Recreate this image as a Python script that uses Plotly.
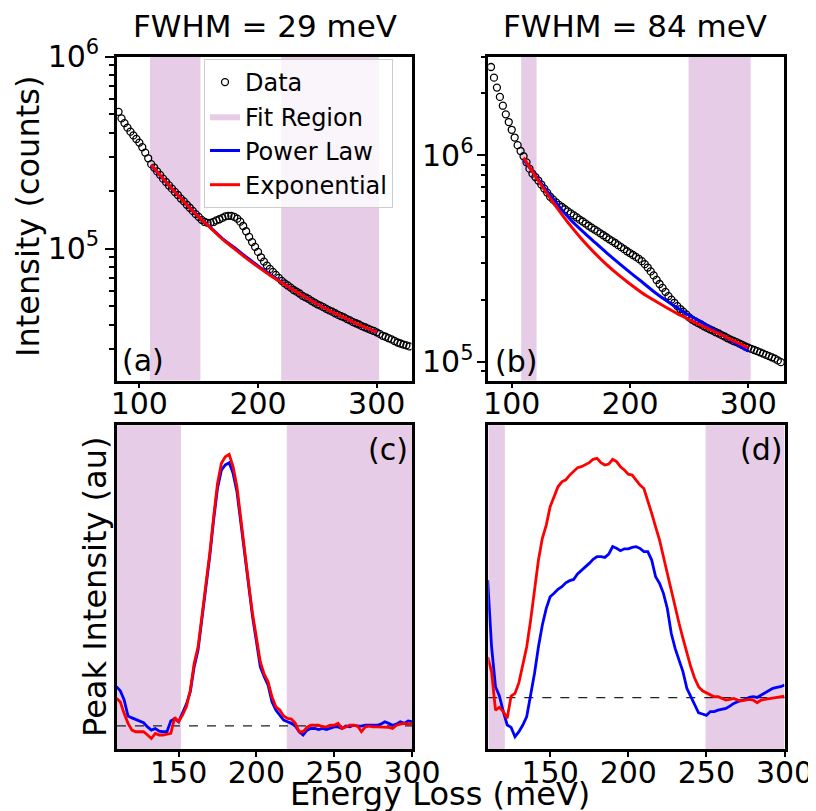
import numpy as np
import plotly.graph_objects as go

# ------------------------------------------------------------------ data
# raw spectra (panels a, b), energy loss in meV, counts in thousands
energy_data = np.arange(82.5, 327.6, 2.5)
counts_a_k = [515, 476, 450, 426, 406, 388, 372, 356, 337, 316,
              295, 275, 264, 252, 242, 231, 222, 213, 205, 197,
              190, 182, 176, 169, 163, 157, 151, 146, 141, 137.5,
              136, 136, 137.5, 140, 142, 144.5, 147, 148, 148, 146,
              143, 138, 131, 123, 115, 108, 102, 96, 90, 85.5,
              81.5, 78.3, 75.5, 72.8, 70.3, 67.8, 65.8, 64.2, 62.6, 60.8,
              59.6, 58.3, 56.7, 55.7, 54.7, 53.4, 52.3, 51.2, 50.4, 49.5,
              48.5, 47.6, 46.9, 46.0, 45.1, 44.4, 43.8, 42.9, 42.2, 41.4,
              40.8, 40.2, 39.4, 38.9, 38.3, 37.7, 37.2, 36.6, 35.9, 35.1,
              34.7, 34.1, 33.6, 33.0, 32.4, 32.0, 31.6, 31.3, 30.9]
counts_b_k = [2680, 2380, 2130, 1920, 1740, 1580, 1450, 1330, 1220, 1120,
              1050, 990, 925, 862, 815, 785, 755, 722, 690, 660,
              630, 610, 592, 575, 562, 548, 535, 523, 512, 500,
              488, 478, 467, 456, 446, 437, 428, 419, 410, 401,
              392, 384, 376, 367, 359, 351, 343, 336, 329, 322,
              315, 307, 297, 286, 274, 262, 249, 238, 228, 218,
              208, 200, 193, 186, 180, 175, 169.5, 164, 160, 157,
              154, 151.5, 148.5, 146, 143.5, 141.5, 139, 137, 134.5, 132.5,
              130, 128, 126, 124.5, 122.5, 120.5, 118.5, 117, 115.5, 114,
              112.5, 111, 109.5, 108, 106.5, 105, 103.5, 101.5, 99.5]

# background fits (panels a, b)
energy_fit = np.arange(110, 300.1, 10)
powerlaw_a_k = [270, 230.5, 197, 169, 146.2, 128.5, 112.6, 101.2, 90.3, 81.2,
                73.2, 66.7, 60.8, 55.8, 51.4, 47.6, 44.3, 41.4, 38.8, 36.5]
exponential_a_k = [272, 231, 197, 169, 146, 128, 112, 99.8, 89.1, 80.2,
                   72.6, 66.4, 60.7, 55.7, 51.4, 47.6, 44.4, 41.5, 38.9, 36.6]
powerlaw_b_k = [955, 800, 670, 566, 486, 428, 380, 338, 302, 271,
                244, 219, 199, 182, 168, 156, 144, 132.5, 122, 112.5]
exponential_b_k = [975, 793, 650, 540, 454, 388, 337, 296, 264, 238,
                   216, 199, 184, 171, 160, 150, 141, 132.5, 124.5, 117]

# background-subtracted peaks (panels c, d)
energy_peak = np.arange(110, 300.1, 2.5)
peak_power_c = [0.144, 0.129, 0.095, 0.036, 0.029, 0.023, 0.014, 0.011, -0.004, -0.016,
                -0.010, -0.020, -0.022, -0.022, 0.018, 0.026, 0.015, 0.045, 0.080, 0.125,
                0.217, 0.279, 0.389, 0.512, 0.623, 0.758, 0.875, 0.942, 0.961, 0.969,
                0.930, 0.862, 0.746, 0.623, 0.512, 0.402, 0.310, 0.217, 0.181, 0.150,
                0.088, 0.058, 0.039, 0.021, 0.015, 0.009, -0.001, -0.022, -0.034, -0.016,
                -0.010, -0.010, -0.014, -0.010, -0.014, -0.010, -0.004, -0.004, -0.010, -0.001,
                -0.004, 0.002, -0.001, -0.001, 0.002, 0.002, 0.002, 0.002, 0.006, 0.015,
                0.009, 0.002, 0.006, 0.015, 0.009, 0.018, 0.015]
peak_exp_c = [0.101, 0.088, 0.045, 0.009, -0.016, -0.022, -0.022, -0.022, -0.034, -0.047,
              -0.028, -0.034, -0.034, -0.032, -0.028, 0.031, 0.015, 0.039, 0.070, 0.131,
              0.230, 0.291, 0.402, 0.525, 0.635, 0.770, 0.893, 0.967, 0.991, 1.000,
              0.955, 0.881, 0.758, 0.635, 0.525, 0.414, 0.322, 0.236, 0.190, 0.162,
              0.107, 0.070, 0.058, 0.036, 0.027, 0.025, 0.009, -0.022, -0.022, -0.006,
              0.002, 0.002, 0.002, -0.004, -0.004, 0.002, 0.002, 0.009, -0.010, -0.004,
              0.002, 0.002, -0.001, -0.022, -0.004, -0.001, -0.004, -0.004, -0.004, -0.004,
              -0.006, -0.010, 0.002, 0.006, 0.009, 0.006, 0.009]
peak_power_d = [0.491, 0.213, 0.046, 0.007, -0.058, -0.114, -0.124, -0.163, -0.142, -0.114,
                -0.079, 0.011, 0.102, 0.213, 0.304, 0.373, 0.422, 0.436, 0.453, 0.464,
                0.480, 0.489, 0.494, 0.517, 0.531, 0.547, 0.561, 0.578, 0.589, 0.589,
                0.586, 0.600, 0.631, 0.624, 0.614, 0.622, 0.622, 0.628, 0.631, 0.624,
                0.610, 0.610, 0.575, 0.505, 0.478, 0.436, 0.373, 0.269, 0.206, 0.157,
                0.109, 0.039, 0.004, -0.024, -0.063, -0.068, -0.074, -0.058, -0.058, -0.052,
                -0.049, -0.045, -0.035, -0.024, -0.017, -0.013, -0.007, 0.001, 0.004, 0.001,
                0.011, 0.021, 0.029, 0.039, 0.043, 0.046, 0.053]
peak_exp_d = [0.170, 0.109, -0.052, -0.040, -0.058, -0.086, 0.007, 0.018, 0.063, 0.136,
              0.213, 0.324, 0.443, 0.575, 0.666, 0.721, 0.798, 0.837, 0.881, 0.902,
              0.910, 0.930, 0.944, 0.961, 0.965, 0.975, 0.982, 0.996, 1.000, 0.982,
              0.972, 0.976, 0.996, 0.986, 0.965, 0.951, 0.934, 0.930, 0.909, 0.888,
              0.874, 0.826, 0.770, 0.714, 0.659, 0.589, 0.519, 0.450, 0.373, 0.311,
              0.248, 0.185, 0.129, 0.081, 0.046, 0.029, 0.021, 0.015, 0.004, 0.004,
              -0.003, -0.010, -0.007, -0.003, -0.010, -0.013, -0.010, -0.007, -0.010, -0.021,
              -0.010, -0.007, -0.007, -0.003, 0.001, 0.004, 0.007]

fit_regions_29 = [(109, 151.5), (219.5, 302)]
fit_regions_84 = [(108, 121), (249.5, 302)]

titles = ["FWHM = 29 meV", "FWHM = 84 meV"]
panel_labels = ["(a)", "(b)", "(c)", "(d)"]
x_ticks_top = [100, 200, 300]
x_ticks_bottom = [150, 200, 250, 300]

assert len(counts_a_k) == len(energy_data) == len(counts_b_k)
for arr in (peak_power_c, peak_exp_c, peak_power_d, peak_exp_d):
    assert len(arr) == len(energy_peak)

# ------------------------------------------------------------------ style
# The page body has an 8 px margin, so the figure is 8 px smaller on each
# axis and all placements below are given in window pixels.
OFF = 8
W, H = 816 - OFF, 811 - OFF
FONT = "DejaVu Sans"
BAND = "#E6CCE6"
BLUE = "#0000FF"
RED = "#FF0000"


def fx(p):
    return (p - OFF) / W


def fy(p):
    return 1 - (p - OFF) / H


fig = go.Figure()

k = 1e3
# panel (a)
fig.add_trace(go.Scatter(x=energy_data, y=np.array(counts_a_k) * k, mode="markers",
                         name="Data", xaxis="x", yaxis="y",
                         marker=dict(symbol="circle-open", size=7, color="black",
                                     line=dict(width=1.3, color="black"))))
fig.add_trace(go.Scatter(x=[None], y=[None], mode="lines", name="Fit Region",
                         fill="toself", fillcolor=BAND, line=dict(width=0, color=BAND),
                         xaxis="x", yaxis="y"))
fig.add_trace(go.Scatter(x=energy_fit, y=np.array(powerlaw_a_k) * k, mode="lines",
                         name="Power Law", line=dict(color=BLUE, width=3, shape="spline"),
                         xaxis="x", yaxis="y"))
fig.add_trace(go.Scatter(x=energy_fit, y=np.array(exponential_a_k) * k, mode="lines",
                         name="Exponential", line=dict(color=RED, width=3, shape="spline"),
                         xaxis="x", yaxis="y"))
# panel (b)
fig.add_trace(go.Scatter(x=energy_data, y=np.array(counts_b_k) * k, mode="markers",
                         showlegend=False, xaxis="x2", yaxis="y2",
                         marker=dict(symbol="circle-open", size=7, color="black",
                                     line=dict(width=1.3, color="black"))))
fig.add_trace(go.Scatter(x=energy_fit, y=np.array(powerlaw_b_k) * k, mode="lines",
                         showlegend=False, line=dict(color=BLUE, width=3, shape="spline"),
                         xaxis="x2", yaxis="y2"))
fig.add_trace(go.Scatter(x=energy_fit, y=np.array(exponential_b_k) * k, mode="lines",
                         showlegend=False, line=dict(color=RED, width=3, shape="spline"),
                         xaxis="x2", yaxis="y2"))
# panel (c)
fig.add_trace(go.Scatter(x=energy_peak, y=peak_power_c, mode="lines", showlegend=False,
                         line=dict(color=BLUE, width=2.8), xaxis="x3", yaxis="y3"))
fig.add_trace(go.Scatter(x=energy_peak, y=peak_exp_c, mode="lines", showlegend=False,
                         line=dict(color=RED, width=2.8), xaxis="x3", yaxis="y3"))
# panel (d)
fig.add_trace(go.Scatter(x=energy_peak, y=peak_power_d, mode="lines", showlegend=False,
                         line=dict(color=BLUE, width=2.8), xaxis="x4", yaxis="y4"))
fig.add_trace(go.Scatter(x=energy_peak, y=peak_exp_d, mode="lines", showlegend=False,
                         line=dict(color=RED, width=2.8), xaxis="x4", yaxis="y4"))

# ------------------------------------------------------------------ axes
tickfont = dict(family=FONT, size=30, color="black")
common_axis = dict(showline=True, linecolor="black", linewidth=2.6, mirror=True,
                   showgrid=False, zeroline=False, tickfont=tickfont,
                   tickcolor="black", automargin=False)
x_common = dict(common_axis, ticks="outside", ticklen=5, tickwidth=2,
                ticklabelstandoff=-10)

x_ranges = {"a": [81.2, 329.3], "b": [80.2, 330.2], "c": [110.4, 300], "d": [110.4, 300]}
y_ranges = {"a": [4.3125, 6.0], "b": [4.909, 6.479], "c": [-0.087, 1.107], "d": [-0.216, 1.138]}

top_dom = [fy(380.5), fy(56.5)]
bot_dom = [fy(749.4), fy(425.3)]

minor_a = [m * 10 ** e for e in (4, 5) for m in range(2, 10)]
minor_b = [m * 10 ** e for e in (4, 5, 6) for m in range(2, 10)]

fig.update_layout(
    xaxis=dict(x_common, domain=[fx(117), fx(411.5)], anchor="y", range=x_ranges["a"],
               tickvals=x_ticks_top),
    yaxis=dict(common_axis, domain=top_dom, anchor="x", type="log", range=y_ranges["a"],
               ticks="outside", ticklen=9, tickwidth=2,
               tickvals=[1e5, 1e6], ticktext=["10<sup>5</sup>", "10<sup>6</sup>"],
               minor=dict(tickvals=minor_a, ticks="outside", ticklen=5, tickwidth=1.6,
                          tickcolor="black", showgrid=False)),
    xaxis2=dict(x_common, domain=[fx(488.3), fx(784)], anchor="y2", range=x_ranges["b"],
                tickvals=x_ticks_top),
    yaxis2=dict(common_axis, domain=top_dom, anchor="x2", type="log", range=y_ranges["b"],
                ticks="outside", ticklen=9, tickwidth=2, ticklabelstandoff=-3,
                tickvals=[1e5, 1e6], ticktext=["10<sup>5</sup>", "10<sup>6</sup>"],
                minor=dict(tickvals=minor_b, ticks="outside", ticklen=5, tickwidth=1.6,
                           tickcolor="black", showgrid=False)),
    xaxis3=dict(x_common, domain=[fx(117), fx(412)], anchor="y3", range=x_ranges["c"],
                tickvals=x_ticks_bottom),
    yaxis3=dict(common_axis, domain=bot_dom, anchor="x3", range=y_ranges["c"],
                ticks="", showticklabels=False),
    xaxis4=dict(x_common, domain=[fx(488.3), fx(784.5)], anchor="y4", range=x_ranges["d"],
                tickvals=x_ticks_bottom),
    yaxis4=dict(common_axis, domain=bot_dom, anchor="x4", range=y_ranges["d"],
                ticks="", showticklabels=False),
)

# ------------------------------------------------------------------ shapes
shapes = []


def add_bands(regions, xref, yref, xr):
    for lo, hi in regions:
        shapes.append(dict(type="rect", xref=xref, yref=yref + " domain",
                           x0=max(lo, xr[0]), x1=min(hi, xr[1]), y0=0, y1=1,
                           fillcolor=BAND, line=dict(width=0), layer="below"))


add_bands(fit_regions_29, "x", "y", x_ranges["a"])
add_bands(fit_regions_84, "x2", "y2", x_ranges["b"])
add_bands(fit_regions_29, "x3", "y3", x_ranges["c"])
add_bands(fit_regions_84, "x4", "y4", x_ranges["d"])
for xa, ya in (("x3", "y3"), ("x4", "y4")):
    shapes.append(dict(type="line", xref=xa + " domain", yref=ya, x0=0, x1=1, y0=0, y1=0,
                       line=dict(color="#222222", width=1.3, dash="dash"), layer="below"))

# ------------------------------------------------------------------ text
ann = []


def text(s, x, y, size, angle=0):
    ann.append(dict(text=s, x=fx(x), y=fy(y), xref="paper", yref="paper",
                    xanchor="center", yanchor="middle", showarrow=False, textangle=angle,
                    font=dict(family=FONT, size=size, color="black")))


text(titles[0], 265, 26, 31)
text(titles[1], 635, 26, 31)
text("Intensity (counts)", 28, 217, 32, -90)
text("Peak Intensity (au)", 95, 587, 32, -90)
text("Energy Loss (meV)", 440, 794, 32)
text(panel_labels[0], 143, 360, 30)
text(panel_labels[1], 516, 361, 30)
text(panel_labels[2], 388, 449, 30)
text(panel_labels[3], 761, 449, 30)

fig.update_layout(
    width=W, height=H, margin=dict(l=0, r=0, t=0, b=0, autoexpand=False),
    paper_bgcolor="white", plot_bgcolor="white",
    shapes=shapes, annotations=ann,
    font=dict(family=FONT, color="black"),
    legend=dict(x=fx(204), y=fy(59), xanchor="left", yanchor="top",
                bgcolor="rgba(255,255,255,0.8)", bordercolor="#cccccc", borderwidth=1,
                font=dict(family=FONT, size=24, color="black"), itemwidth=30,
                tracegroupgap=0),
)

fig.write_html("out.html")
